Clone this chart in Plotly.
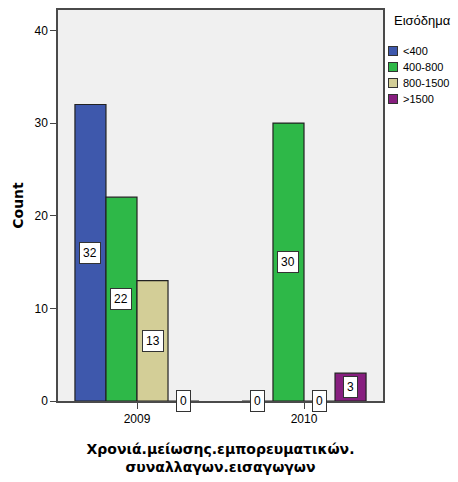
import plotly.graph_objects as go

years = ["2009", "2010"]
groups = ["<400", "400-800", "800-1500", ">1500"]
counts = {
    "<400": [32, 0],
    "400-800": [22, 30],
    "800-1500": [13, 0],
    ">1500": [0, 3],
}
colors = ["#3E58AC", "#2EB848", "#D3CE97", "#871E7F"]
y_ticks = [0, 10, 20, 30, 40]

bargap = 0.257
barw = (1 - bargap) / len(groups)

fig = go.Figure()
for g, c in zip(groups, colors):
    fig.add_trace(go.Bar(
        x=years, y=counts[g], name=g, showlegend=False,
        marker=dict(color=c, line=dict(color="#222222", width=1.2)),
    ))

# value labels in white boxes, centred in each bar
for i, g in enumerate(groups):
    for j, v in enumerate(counts[g]):
        fig.add_annotation(
            x=j + (i - (len(groups) - 1) / 2) * barw, y=v / 2,
            text=str(v), showarrow=False,
            bgcolor="white", bordercolor="#333333", borderwidth=1, borderpad=3,
            font=dict(family="Liberation Sans, Arial", size=12, color="black"),
        )

# legend drawn as annotations (plotly's own legend would squeeze the plot)
fig.add_annotation(
    text="Εισόδημα", xref="paper", yref="paper", x=1.028, y=0.974,
    xanchor="left", yanchor="middle", showarrow=False,
    font=dict(family="Liberation Sans, Arial", size=13, color="black"),
)
for k, (g, c) in enumerate(zip(groups, colors)):
    ypos = 0.895 - k * 0.041
    fig.add_annotation(
        text=" ", xref="paper", yref="paper", x=1.031, y=ypos,
        xanchor="center", yanchor="middle", showarrow=False,
        width=8, height=8, bgcolor=c, bordercolor="#333333",
        borderwidth=1, borderpad=0,
    )
    fig.add_annotation(
        text=g, xref="paper", yref="paper", x=1.054, y=ypos,
        xanchor="left", yanchor="middle", showarrow=False,
        font=dict(family="Liberation Sans, Arial", size=11, color="black"),
    )

fig.update_layout(
    width=458, height=482,
    barmode="group", bargap=bargap, bargroupgap=0,
    plot_bgcolor="#F0F0F0", paper_bgcolor="white",
    margin=dict(l=58, r=75, t=10, b=81),
    font=dict(family="Liberation Sans, Arial", size=12, color="black"),
    showlegend=False,
)
fig.update_xaxes(
    type="category", range=[-0.473, 1.473], automargin=False,
    showline=True, linecolor="#4A4A4A", linewidth=1.5, mirror=True,
    ticks="outside", ticklen=6, tickcolor="#444444",
    showgrid=False,
    title=dict(text="<b>Χρονιά.μείωσης.εμπορευματικών.<br>συναλλαγων.εισαγωγων</b>",
               font=dict(family="DejaVu Sans", size=14), standoff=19),
)
fig.update_yaxes(
    range=[0, 42.2], tickvals=y_ticks, automargin=False,
    showline=True, linecolor="#4A4A4A", linewidth=1.5, mirror=True,
    ticks="outside", ticklen=6, tickcolor="#444444",
    showgrid=False, zeroline=False,
    title=dict(text="<b>Count</b>", font=dict(family="DejaVu Sans", size=14), standoff=8),
)

# drop the default 8px body margin so the figure fills the window exactly
fig.write_html("out.html", config={"displayModeBar": False},
               post_script="document.body.style.margin='0';document.body.style.overflow='hidden';")
